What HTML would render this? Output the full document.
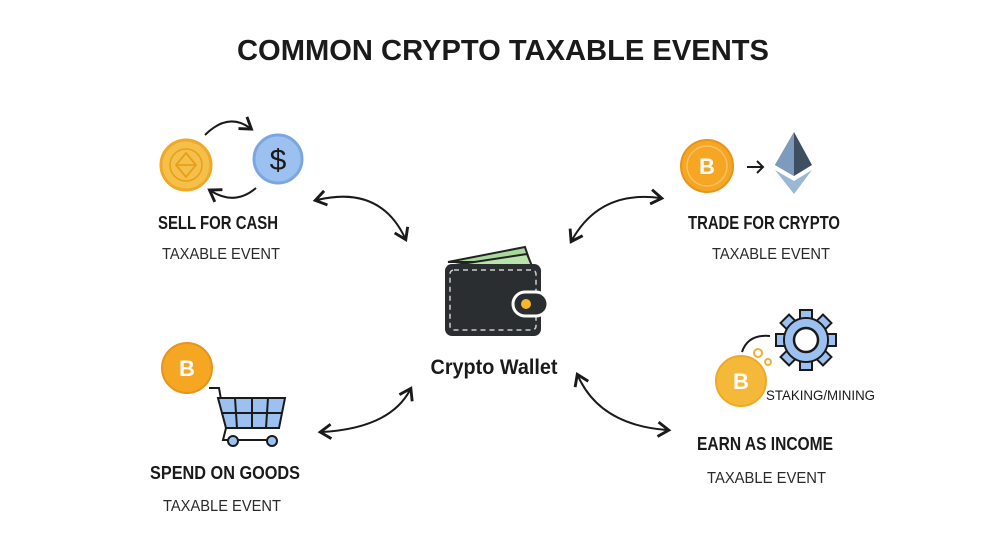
<!DOCTYPE html>
<html><head><meta charset="utf-8"><style>
html,body{margin:0;padding:0;background:#fff;}
svg{display:block;}
text{font-family:"Liberation Sans Narrow","Liberation Sans",sans-serif;fill:#1a1a1a;}
.h{font-weight:bold;font-size:18px;}
.s{font-size:16px;fill:#2a2a2a;}
text.b{fill:#fff;font-family:"Liberation Sans",sans-serif;font-weight:bold;font-size:22px;}
</style></head><body>
<svg width="985" height="537" viewBox="0 0 985 537">
<defs>
<marker id="ah" viewBox="0 0 10 10" refX="6" refY="5" markerWidth="9" markerHeight="9" orient="auto-start-reverse"><path d="M1,1 L7,5 L1,9" fill="none" stroke="#1a1a1a" stroke-width="1.6"/></marker>
</defs>
<text x="503" y="60" text-anchor="middle" font-size="29" font-weight="bold" textLength="532" lengthAdjust="spacingAndGlyphs">COMMON CRYPTO TAXABLE EVENTS</text>

<!-- sell for cash -->
<g>
<circle cx="186" cy="165" r="25" fill="#f5c04a" stroke="#f0a826" stroke-width="3"/>
<circle cx="186" cy="165" r="16" fill="none" stroke="#e59f1c" stroke-width="1.5"/>
<path d="M186,153 L196,165 L186,177 L176,165 Z M176,165 L196,165" fill="none" stroke="#e59f1c" stroke-width="1.8"/>
<circle cx="278" cy="159" r="24" fill="#9cc1f0" stroke="#7aa7e2" stroke-width="3"/>
<text x="278" y="170" text-anchor="middle" font-size="30" font-family="Liberation Sans">$</text>
<path d="M205,135 Q228,112 250,128" fill="none" stroke="#1a1a1a" stroke-width="2" marker-end="url(#ah)"/>
<path d="M256,188 Q235,206 211,191" fill="none" stroke="#1a1a1a" stroke-width="2" marker-end="url(#ah)"/>
</g>
<text class="h" x="158" y="229" textLength="120" lengthAdjust="spacingAndGlyphs">SELL FOR CASH</text>
<text class="s" x="162" y="259" textLength="118" lengthAdjust="spacingAndGlyphs">TAXABLE EVENT</text>

<!-- trade for crypto -->
<g>
<circle cx="707" cy="166" r="26" fill="#f5a623" stroke="#e8941a" stroke-width="2"/>
<circle cx="707" cy="166" r="20" fill="none" stroke="#f8c066" stroke-width="1.5"/>
<text class="b" x="707" y="174" text-anchor="middle">B</text>
<path d="M747,167 L763,167 M757,161 L763,167 L757,173" fill="none" stroke="#1a1a1a" stroke-width="2"/>
<path d="M794,132 L812,165 L794,176 L775,165 Z" fill="#3f4f62"/>
<path d="M794,132 L794,176 L775,165 Z" fill="#7d9cbd"/>
<path d="M775,170 L794,181 L812,170 L794,194 Z" fill="#9ab7d6"/>
</g>
<text class="h" x="688" y="229" textLength="152" lengthAdjust="spacingAndGlyphs">TRADE FOR CRYPTO</text>
<text class="s" x="712" y="259" textLength="118" lengthAdjust="spacingAndGlyphs">TAXABLE EVENT</text>

<!-- wallet -->
<g>
<path d="M448,262 L525,247 L530,262 Z" fill="#a7d99a" stroke="#222" stroke-width="2"/>
<path d="M448,266 L527,254 L532,266 Z" fill="#b9e3aa" stroke="#222" stroke-width="2"/>
<rect x="445" y="264" width="96" height="72" rx="7" fill="#2b2e31"/>
<rect x="450" y="270" width="86" height="60" rx="4" fill="none" stroke="#ccc" stroke-width="1.5" stroke-dasharray="5,4"/>
<rect x="513" y="292" width="35" height="24" rx="12" fill="#2b2e31" stroke="#fff" stroke-width="3"/>
<circle cx="526" cy="304" r="5" fill="#f5b82a"/>
</g>
<text x="494" y="374" text-anchor="middle" font-size="21" font-weight="bold" textLength="127" lengthAdjust="spacingAndGlyphs">Crypto Wallet</text>

<!-- spend on goods -->
<g>
<circle cx="187" cy="368" r="25" fill="#f5a623" stroke="#e8941a" stroke-width="2"/>
<text class="b" x="187" y="376" text-anchor="middle">B</text>
<path d="M209,388 L219,388 L226,428 L280,428" fill="none" stroke="#1a1a1a" stroke-width="2"/>
<path d="M218,398 L285,398 L279,428 L226,428 Z" fill="#9cc1f0" stroke="#1a1a1a" stroke-width="2"/>
<path d="M235,398 L237,428 M252,398 L252,428 M268,398 L266,428 M221,413 L282,413" stroke="#1a1a1a" stroke-width="2"/>
<path d="M226,428 L223,440 L276,440" fill="none" stroke="#1a1a1a" stroke-width="2"/>
<circle cx="233" cy="441" r="5" fill="#9cc1f0" stroke="#1a1a1a" stroke-width="2"/>
<circle cx="272" cy="441" r="5" fill="#9cc1f0" stroke="#1a1a1a" stroke-width="2"/>
</g>
<text class="h" x="150" y="479" textLength="150" lengthAdjust="spacingAndGlyphs">SPEND ON GOODS</text>
<text class="s" x="163" y="511" textLength="118" lengthAdjust="spacingAndGlyphs">TAXABLE EVENT</text>

<!-- earn as income -->
<g>
<path d="M742,352 Q748,334 770,336" fill="none" stroke="#1a1a1a" stroke-width="2"/>
<circle cx="758" cy="353" r="4" fill="none" stroke="#f0b03a" stroke-width="2"/>
<circle cx="768" cy="362" r="3" fill="none" stroke="#f0b03a" stroke-width="2"/>
<g transform="translate(806,340)">
<g fill="#9cc1f0" stroke="#1a1a1a" stroke-width="2">
<rect x="-6" y="-30" width="12" height="10"/><rect x="-6" y="20" width="12" height="10"/>
<rect x="-30" y="-6" width="10" height="12"/><rect x="20" y="-6" width="10" height="12"/>
<rect x="-6" y="-30" width="12" height="10" transform="rotate(45)"/><rect x="-6" y="-30" width="12" height="10" transform="rotate(135)"/>
<rect x="-6" y="-30" width="12" height="10" transform="rotate(225)"/><rect x="-6" y="-30" width="12" height="10" transform="rotate(315)"/>
</g>
<circle r="22" fill="#9cc1f0" stroke="#1a1a1a" stroke-width="2"/>
<circle r="21" fill="#9cc1f0"/>
<circle r="12" fill="#fff" stroke="#1a1a1a" stroke-width="2.5"/>
</g>
<circle cx="741" cy="381" r="25" fill="#f5b93a" stroke="#f0a826" stroke-width="2"/>
<text class="b" x="741" y="389" text-anchor="middle">B</text>
</g>
<text x="766" y="400" font-size="14" textLength="109" lengthAdjust="spacingAndGlyphs">STAKING/MINING</text>
<text class="h" x="697" y="450" textLength="136" lengthAdjust="spacingAndGlyphs">EARN AS INCOME</text>
<text class="s" x="707" y="483" textLength="119" lengthAdjust="spacingAndGlyphs">TAXABLE EVENT</text>

<!-- connector arrows -->
<path d="M317,200 Q380,185 405,238" fill="none" stroke="#1a1a1a" stroke-width="2" marker-start="url(#ah)" marker-end="url(#ah)"/>
<path d="M660,198 Q600,190 572,240" fill="none" stroke="#1a1a1a" stroke-width="2" marker-start="url(#ah)" marker-end="url(#ah)"/>
<path d="M322,432 Q390,428 410,390" fill="none" stroke="#1a1a1a" stroke-width="2" marker-start="url(#ah)" marker-end="url(#ah)"/>
<path d="M578,376 Q600,425 667,430" fill="none" stroke="#1a1a1a" stroke-width="2" marker-start="url(#ah)" marker-end="url(#ah)"/>
</svg>
</body></html>
